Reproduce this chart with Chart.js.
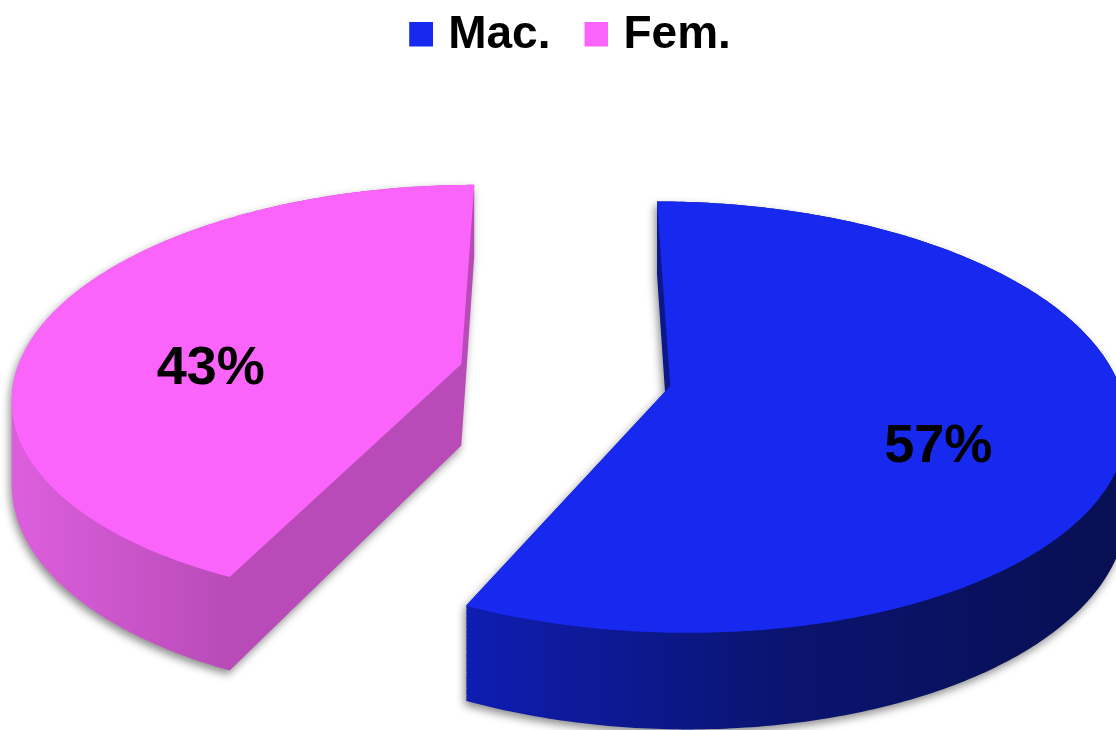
<!DOCTYPE html>
<html><head><meta charset="utf-8">
<script src="https://cdn.jsdelivr.net/npm/chart.js@4.4.0/dist/chart.umd.min.js"></script>
<style>html,body{margin:0;padding:0;background:#fff;} #wrap{width:1116px;height:730px;position:relative;}</style>
</head><body><div id="wrap"><canvas id="c"></canvas></div>
<script>
// ---- data ----
const categories = ['Mac.', 'Fem.'];
const values = [57, 43];

// ---- style ----
const topColors = ['#1729EF', '#FB64FA'];
const sideStops = [
  [[0, '#1222C8'], [0.27, '#0F1DB2'], [0.62, '#0A1470'], [1, '#080F52']],
  [[0, '#DC5EDC'], [0.24, '#B84BB8'], [1, '#B84BB8']]
];
// projection constants (perspective tilt of the pie)
const RX = 446, RY = 208, PERSP = 0.1435, HEIGHT = 82, EXPLODE = 0.24;
const LABEL_R = 0.577, LABEL_DV = 0.15, X_SHIFT = 7, Y_SHIFT = -24;
const FONT = '"Liberation Sans", Arial, Helvetica, sans-serif';

// legend swatch: 24x25 square at the right of a transparent canvas
function legendSwatch(color) {
  const c = document.createElement('canvas');
  c.width = 56; c.height = 27;
  const g = c.getContext('2d');
  g.fillStyle = color;
  g.fillRect(32, 0, 24, 25);
  return c;
}

const pie3d = {
  id: 'pie3d',
  beforeDatasetsDraw(chart) {
    const ctx = chart.ctx;
    const arcs = chart.getDatasetMeta(0).data;
    const total = values.reduce((a, b) => a + b, 0);
    const cx = arcs[0].x + X_SHIFT, cy = arcs[0].y + Y_SHIFT;
    // project a point of the unit pie plane (u right, v toward viewer) at height h
    const P = (u, v, h) => {
      const d = 1 - PERSP * v;
      return [cx + RX * u / d, cy + (RY * v + h) / d];
    };
    const geo = arcs.map(arc => {
      const {startAngle, endAngle} = arc;
      const mid = (startAngle + endAngle) / 2;
      return {startAngle, endAngle, mid,
        ux: Math.cos(mid) * EXPLODE, vx: Math.sin(mid) * EXPLODE};
    });
    const addSlice = (g, h) => {
      let p = P(g.ux, g.vx, h);
      ctx.moveTo(p[0], p[1]);
      const n = Math.max(8, Math.ceil((g.endAngle - g.startAngle) / (Math.PI / 240)));
      for (let k = 0; k <= n; k++) {
        const a = g.startAngle + (g.endAngle - g.startAngle) * k / n;
        p = P(g.ux + Math.cos(a), g.vx + Math.sin(a), h);
        ctx.lineTo(p[0], p[1]);
      }
      ctx.closePath();
    };
    ctx.save();
    geo.forEach((g, i) => {
      // side walls (extrusion)
      ctx.beginPath();
      for (let h = 0; h <= HEIGHT; h += 1) addSlice(g, h);
      const xl = P(g.ux - 1, g.vx, 0)[0];
      const xr = P(g.ux + 1, g.vx, 0)[0];
      const grad = ctx.createLinearGradient(xl, 0, xr, 0);
      sideStops[i].forEach(s => grad.addColorStop(s[0], s[1]));
      ctx.fillStyle = grad;
      ctx.shadowColor = 'rgba(0,0,0,0.45)';
      ctx.shadowBlur = 8;
      ctx.shadowOffsetX = -2;
      ctx.shadowOffsetY = 4;
      ctx.fill();
      ctx.shadowColor = 'rgba(0,0,0,0)';
      ctx.shadowBlur = 0; ctx.shadowOffsetX = 0; ctx.shadowOffsetY = 0;
      // top face
      ctx.beginPath();
      addSlice(g, 0);
      ctx.fillStyle = topColors[i];
      ctx.fill();
    });
    // labels
    ctx.fillStyle = '#000';
    ctx.font = 'bold 54px ' + FONT;
    ctx.textAlign = 'center';
    ctx.textBaseline = 'middle';
    geo.forEach((g, i) => {
      const p = P(g.ux + Math.cos(g.mid) * LABEL_R, g.vx + Math.sin(g.mid) * LABEL_R + LABEL_DV, 0);
      ctx.fillText(Math.round(values[i] / total * 100) + '%', p[0], p[1]);
    });
    ctx.restore();
    return false;
  }
};

const baseLabels = (Chart.overrides.pie || Chart.overrides.doughnut).plugins.legend.labels.generateLabels;

new Chart(document.getElementById('c'), {
  type: 'pie',
  data: {
    labels: categories,
    datasets: [{ data: values, backgroundColor: topColors, borderWidth: 0 }]
  },
  options: {
    responsive: true,
    maintainAspectRatio: false,
    animation: false,
    layout: { padding: { left: 0, top: 2 } },
    plugins: {
      legend: {
        position: 'top',
        labels: {
          usePointStyle: true, pointStyleWidth: 40, boxHeight: 25,
          padding: 10, color: '#000',
          font: { family: FONT, size: 46, weight: 'bold' },
          generateLabels(chart) {
            const items = baseLabels(chart);
            items.forEach((it, i) => { it.pointStyle = legendSwatch(topColors[i]); });
            return items;
          }
        }
      },
      tooltip: { enabled: false }
    }
  },
  plugins: [pie3d]
});
</script>
</body></html>
